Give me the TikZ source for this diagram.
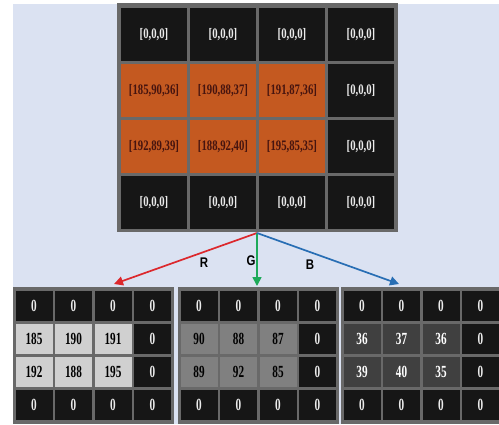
\documentclass[tikz,border=0pt]{standalone}
\usepackage{fontspec}
\setmainfont{Liberation Serif}
\setsansfont{Liberation Sans}
\newfontfamily\cellfont[FakeStretch=0.74, BoldFont={Liberation Serif Bold}]{Liberation Serif}
\newfontfamily\numfont[FakeStretch=0.66, BoldFont={Liberation Serif Bold}]{Liberation Serif}
\newfontfamily\labfont[FakeStretch=0.82, BoldFont={Liberation Sans Bold}]{Liberation Sans}
\usetikzlibrary{arrows.meta, positioning}

\definecolor{bgblue}{RGB}{219,226,242}
\definecolor{cellblack}{RGB}{22,22,22}
\definecolor{framegray}{RGB}{105,105,105}
\definecolor{orng}{RGB}{196,89,32}
\definecolor{orngtext}{RGB}{70,20,15}
\definecolor{lightR}{RGB}{208,208,208}
\definecolor{midG}{RGB}{128,128,128}
\definecolor{darkB}{RGB}{64,64,64}
\definecolor{redarr}{RGB}{220,40,45}
\definecolor{greenarr}{RGB}{30,170,90}
\definecolor{bluearr}{RGB}{40,110,180}

\begin{document}
\begin{tikzpicture}[x=1pt, y=-1pt,
  cell/.style = {minimum width=66pt, minimum height=53pt, inner sep=0pt, fill=cellblack, text=white!92!black, font=\cellfont\bfseries\fontsize{14.5}{14.5}\selectfont},
  small/.style = {cell, minimum width=37pt, minimum height=30pt, font=\numfont\bfseries\fontsize{17}{17}\selectfont},
  arr/.style = {line width=1.7pt, -{Triangle[length=9pt, width=9pt]}},
  lab/.style = {font=\labfont\bfseries\fontsize{14}{14}\selectfont}]
	\useasboundingbox (0,0) rectangle (499,424);
	\fill[bgblue] (13,4) rectangle (499,424);

	% image with RGB values
	\fill[framegray] (117,3) rectangle (398,232);
	\foreach \r/\c in {0/0,0/1,0/2,0/3,1/3,2/3,3/0,3/1,3/2,3/3}
		\node[cell] (t\r\c) at (154+69*\c, 34.5+56*\r) {[0,0,0]};
	\foreach \r/\c/\v in {1/0/{[185,90,36]}, 1/1/{[190,88,37]}, 1/2/{[191,87,36]},
	                      2/0/{[192,89,39]}, 2/1/{[188,92,40]}, 2/2/{[195,85,35]}}
		\node[cell, fill=orng, text=orngtext] (t\r\c) at (154+69*\c, 34.5+56*\r) {\v};

	% one grid per channel
	\foreach \g/\x/\fc/\tc/\pa/\pb/\pc/\pd/\pe/\pf in {r/34/lightR/black/185/190/191/192/188/195,
	                                                   g/199/midG/black/90/88/87/89/92/85,
	                                                   b/362/darkB/white/36/37/36/39/40/35} {
		\fill[framegray] (\x-21,287) rectangle (\x+139.5,424);
		\foreach \r/\c in {0/0,0/1,0/2,0/3,1/3,2/3,3/0,3/1,3/2,3/3}
			\node[small] (\g\r\c) at (\x+39.5*\c, 306+33*\r) {0};
		\node[small, fill=\fc, text=\tc] (\g10) at (\x, 339) {\pa};
		\node[small, fill=\fc, text=\tc] (\g11) at (\x+39.5, 339) {\pb};
		\node[small, fill=\fc, text=\tc] (\g12) at (\x+79, 339) {\pc};
		\node[small, fill=\fc, text=\tc] (\g20) at (\x, 372) {\pd};
		\node[small, fill=\fc, text=\tc] (\g21) at (\x+39.5, 372) {\pe};
		\node[small, fill=\fc, text=\tc] (\g22) at (\x+79, 372) {\pf};
	}

	% split into channels
	\coordinate (src) at (257,233);
	\coordinate (rtip) at (114,284);
	\coordinate (gtip) at (257,286);
	\coordinate (btip) at (399,284);
	\draw[arr, redarr] (src) -- (rtip);
	\draw[arr, greenarr] (src) -- (gtip);
	\draw[arr, bluearr] (src) -- (btip);
	\node[lab] (R) at (204,263) {R};
	\node[lab] (G) at (251,261) {G};
	\node[lab] (B) at (310,265) {B};
\end{tikzpicture}
\end{document}
